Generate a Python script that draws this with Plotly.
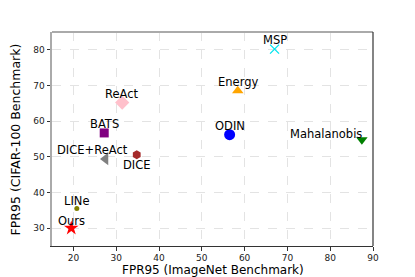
import plotly.graph_objects as go

methods = ["MSP", "Energy", "ODIN", "Mahalanobis", "ReAct", "BATS", "DICE+ReAct", "DICE", "LINe", "Ours"]
fpr_imagenet = [67.0, 58.4, 56.5, 87.4, 31.4, 27.2, 27.5, 34.8, 20.8, 19.5]
fpr_cifar100 = [80.2, 68.5, 56.2, 54.8, 65.2, 56.7, 49.4, 50.6, 35.5, 30.0]
x_title = "FPR95 (ImageNet Benchmark)"
y_title = "FPR95 (CIFAR-100 Benchmark)"

symbols = ["x-thin", "triangle-up", "circle", "triangle-down", "diamond", "square",
           "triangle-left", "hexagon", "circle", "star"]
colors = ["#00e5ee", "#ffa500", "#0000ff", "#008000", "#ffc0cb", "#800080",
          "#808080", "#a52a2a", "#808000", "#ff0000"]
sizes = [9, 10, 11, 10, 11, 9, 11, 9, 5, 11]
label_dx = [0, 0, 0, -36, 0, 0, -13, 0, 0, 0]
label_dy = [9, 8.5, 8.5, 5.5, 8.5, 8.5, 8.5, -10, 8, 7.5]

fig = go.Figure()
fig.add_trace(go.Scatter(
    x=fpr_imagenet, y=fpr_cifar100, mode="markers",
    marker=dict(symbol=symbols, color=colors, size=sizes, opacity=1,
                line=dict(color=colors, width=[1.3 if s == "x-thin" else 0 for s in symbols])),
    showlegend=False, hoverinfo="skip"))

for m, x, y, dx, dy in zip(methods, fpr_imagenet, fpr_cifar100, label_dx, label_dy):
    fig.add_annotation(x=x, y=y, text=m, showarrow=False, xshift=dx, yshift=dy,
                       xanchor="center", yanchor="middle",
                       font=dict(family="DejaVu Sans", size=11.5, color="black"))

# axis titles placed as paper-anchored text
fig.add_annotation(x=0.5, y=-0.111, xref="paper", yref="paper", text=x_title, showarrow=False,
                   xanchor="center", yanchor="middle", borderpad=0,
                   font=dict(family="DejaVu Sans", size=12, color="black"))
fig.add_annotation(x=-0.114, y=0.5, xref="paper", yref="paper", text=y_title, showarrow=False,
                   textangle=-90, xanchor="center", yanchor="middle", borderpad=0,
                   font=dict(family="DejaVu Sans", size=12.5, color="black"))

grid = dict(showgrid=True, gridcolor="#e3e3e3", gridwidth=0.7, griddash="dash", zeroline=False,
            ticks="outside", ticklen=3.5, tickcolor="#333", tickwidth=1, automargin=False,
            tickfont=dict(family="DejaVu Sans", size=9, color="#222"))
fig.update_xaxes(range=[15, 90], dtick=10, tick0=0, showline=True, linecolor="#333", linewidth=1.2, **grid)
fig.update_yaxes(range=[25, 85], dtick=10, tick0=0, showline=True, linecolor="#aaaaaa", linewidth=2, **grid)
# top and right frame lines
fig.add_shape(type="line", xref="paper", yref="paper", x0=0, x1=1, y0=1, y1=1,
              line=dict(color="#aaaaaa", width=2))
fig.add_shape(type="line", xref="paper", yref="paper", x0=1, x1=1, y0=0, y1=1,
              line=dict(color="#333", width=1.2))

# page body has an 8px margin, so margins are offset to place the plot area as in the reference
fig.update_layout(width=415, height=277, margin=dict(l=44, r=50, t=24, b=39),
                  plot_bgcolor="white", paper_bgcolor="white",
                  font=dict(family="DejaVu Sans"))
fig.write_html("out.html")
